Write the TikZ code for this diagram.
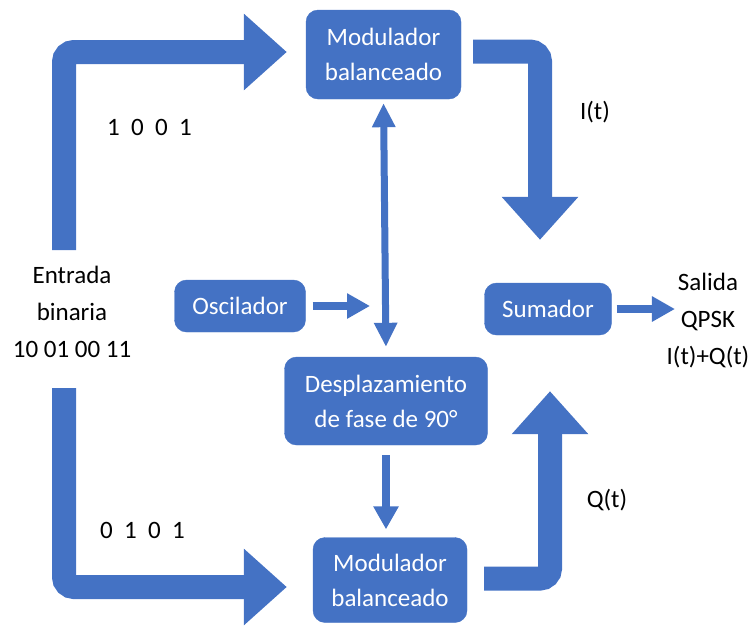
\documentclass[tikz,border=0pt]{standalone}
\usepackage{fontspec}
\setmainfont{Carlito}
\usetikzlibrary{arrows.meta,calc,positioning}
\definecolor{azul}{HTML}{4472C4}
\tikzset{%
        x = 1pt,
        y = -1pt,
        font = \fontsize{25}{35}\selectfont
}
\tikzstyle{bloque}=[
    fill = azul,
    draw = azul,
    text = white,
    align = center,
    rounded corners = 12pt,
    inner sep = 0pt
]
\tikzstyle{texto}=[
    align = center,
    inner sep = 0pt,
    font = \fontsize{25}{37}\selectfont
]
\tikzstyle{flechota}=[
    draw = azul,
    line width = 24pt,
    rounded corners = 10pt,
    -{Triangle[length=43pt,width=74pt]}
]
\tikzstyle{flecha}=[
    draw = azul,
    line width = 8pt,
    -{Triangle[length=23pt,width=24pt]}
]
\begin{document}
\begin{tikzpicture}
    \useasboundingbox (0,0) rectangle (754,625);
    % bloques
    \node[bloque, minimum width=155pt, minimum height=89pt] (mod1) at (383.5,54.5) {Modulador\\balanceado};
    \node[bloque, minimum width=131pt, minimum height=52pt] (osc) at (240,306) {Oscilador};
    \node[bloque, minimum width=203pt, minimum height=88pt] (desp) at (386,401) {Desplazamiento\\de fase de 90°};
    \node[bloque, minimum width=154pt, minimum height=85pt] (mod2) at (390,580) {Modulador\\balanceado};
    \node[bloque, minimum width=127pt, minimum height=52pt] (sum) at (548,309) {Sumador};
    % textos
    \node[texto] (entrada) at (72,312) {Entrada\\binaria\\10 01 00 11};
    \node[texto] (salida) at (708,321) {Salida\\QPSK\\I(t)+Q(t)};
    \node[texto] (bitsI) at (149.5,127) {1\ \ 0\ \ 0\ \ 1};
    \node[texto] (bitsQ) at (142.5,530) {0\ \ 1\ \ 0\ \ 1};
    \node[texto] (it) at (595,112) {I(t)};
    \node[texto] (qt) at (607,500) {Q(t)};
    \coordinate (in1) at (64,250);
    \coordinate (in2) at (64,388);
    % flechas grandes
    \draw[flechota, shorten >=19pt] (in1) |- ([yshift=2.5pt]mod1.west);
    \draw[flechota, shorten >=26pt] (in2) |- ([yshift=-7pt]mod2.west);
    \draw[flechota, shorten <=12pt, shorten >=43pt] ([yshift=3pt]mod1.east) -| ([xshift=-8pt]sum.north);
    \draw[flechota, shorten <=17pt, shorten >=56pt] ([yshift=1.5pt]mod2.east) -| ([xshift=2pt]sum.south);
    % flechas finas
    \draw[flecha, shorten <=7pt, shorten >=16pt] (osc.east) -- (osc.east -| desp.north);
    \draw[flecha, line width=7pt, {Triangle[length=24pt,width=22pt]}-{Triangle[length=24pt,width=22pt]},
        shorten <=4pt, shorten >=10pt] (mod1.south) -- (desp.north);
    \draw[flecha, shorten <=10pt, shorten >=8pt] (desp.south) -- (desp.south |- mod2.north);
    \draw[flecha, shorten <=5pt, shorten >=-8.5pt] (sum.east) -- (sum.east -| salida.west);
\end{tikzpicture}
\end{document}
